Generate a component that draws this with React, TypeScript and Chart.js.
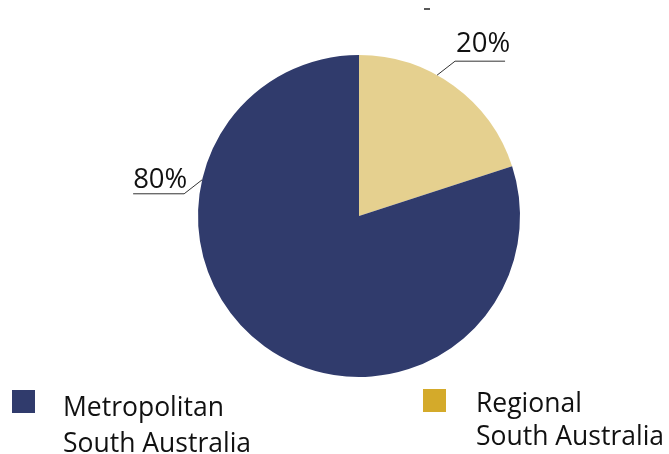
import React, { useEffect, useRef } from "react";
import { Chart, registerables } from "chart.js";

Chart.register(...registerables);

const categories = ["Regional South Australia", "Metropolitan South Australia"];
const shares = [20, 80];
const sliceColors = ["#E5D08F", "#303B6C"];
const legendColors = ["#D4AA2A", "#303B6C"];
const legendLines = [["Regional", "South Australia"], ["Metropolitan", "South Australia"]];
const valueLabels = ["20%", "80%"];

const FONT = "'Open Sans', sans-serif";

// label placement config (angle from top clockwise in degrees, where the leader touches the arc)
const leaderCfg = [
  { angle: 29, elbowDx: 18, elbowDy: -14, lineLen: 50, side: 1, textDx: 1, textDy: -9 },
  { angle: 283, elbowDx: -18, elbowDy: 14, lineLen: 51, side: -1, textDx: 0, textDy: -6 },
];

const legendCfg = [
  { box: [423, 389], text: [476, 412], lineGap: 33 },
  { box: [12, 390], text: [63, 416], lineGap: 36 },
];

const overlayPlugin = {
  id: "overlay",
  afterDraw(chart: any) {
    const ctx = chart.ctx;
    const meta = chart.getDatasetMeta(0);
    ctx.save();
    meta.data.forEach((arc: any, i: number) => {
      const cfg = leaderCfg[i];
      const a = (cfg.angle * Math.PI) / 180;
      const x0 = arc.x + arc.outerRadius * Math.sin(a);
      const y0 = arc.y - arc.outerRadius * Math.cos(a);
      const x1 = x0 + cfg.elbowDx;
      const y1 = y0 + cfg.elbowDy;
      const x2 = x1 + cfg.side * cfg.lineLen;
      ctx.strokeStyle = "#333333";
      ctx.lineWidth = 1;
      ctx.beginPath();
      ctx.moveTo(x0, y0);
      ctx.lineTo(x1, y1);
      ctx.lineTo(x2, y1);
      ctx.stroke();
      ctx.fillStyle = "#111111";
      ctx.font = `27.5px ${FONT}`;
      ctx.textBaseline = "alphabetic";
      ctx.textAlign = "left";
      const tx = Math.min(x1, x2) + cfg.textDx;
      ctx.fillText(valueLabels[i], tx, y1 + cfg.textDy);
    });
    legendCfg.forEach((lc, i) => {
      ctx.fillStyle = legendColors[i];
      ctx.fillRect(lc.box[0], lc.box[1], 23, 23);
      ctx.fillStyle = "#111111";
      ctx.font = `26.5px ${FONT}`;
      ctx.textAlign = "left";
      legendLines[i].forEach((t, j) => {
        ctx.fillText(t, lc.text[0], lc.text[1] + j * lc.lineGap);
      });
    });
    ctx.strokeStyle = "#222222";
    ctx.lineWidth = 1.5;
    ctx.beginPath();
    ctx.moveTo(424, 9);
    ctx.lineTo(430, 9);
    ctx.stroke();
    ctx.restore();
  },
};

export default function App() {
  const ref = useRef<HTMLCanvasElement>(null);
  useEffect(() => {
    document.body.style.margin = "0";
    const chart = new Chart(ref.current!, {
      type: "pie",
      data: {
        labels: categories,
        datasets: [
          {
            data: shares,
            backgroundColor: sliceColors,
            borderWidth: 0,
          },
        ],
      },
      options: {
        responsive: false,
        animation: false,
        layout: { padding: { top: 55, bottom: 77, left: 198, right: 149 } },
        plugins: {
          legend: { display: false },
          tooltip: { enabled: false },
        },
      },
      plugins: [overlayPlugin],
    });
    return () => chart.destroy();
  }, []);
  return (
    <div style={{ width: 669, height: 454, background: "#fff" }}>
      <canvas ref={ref} width={669} height={454} />
    </div>
  );
}
